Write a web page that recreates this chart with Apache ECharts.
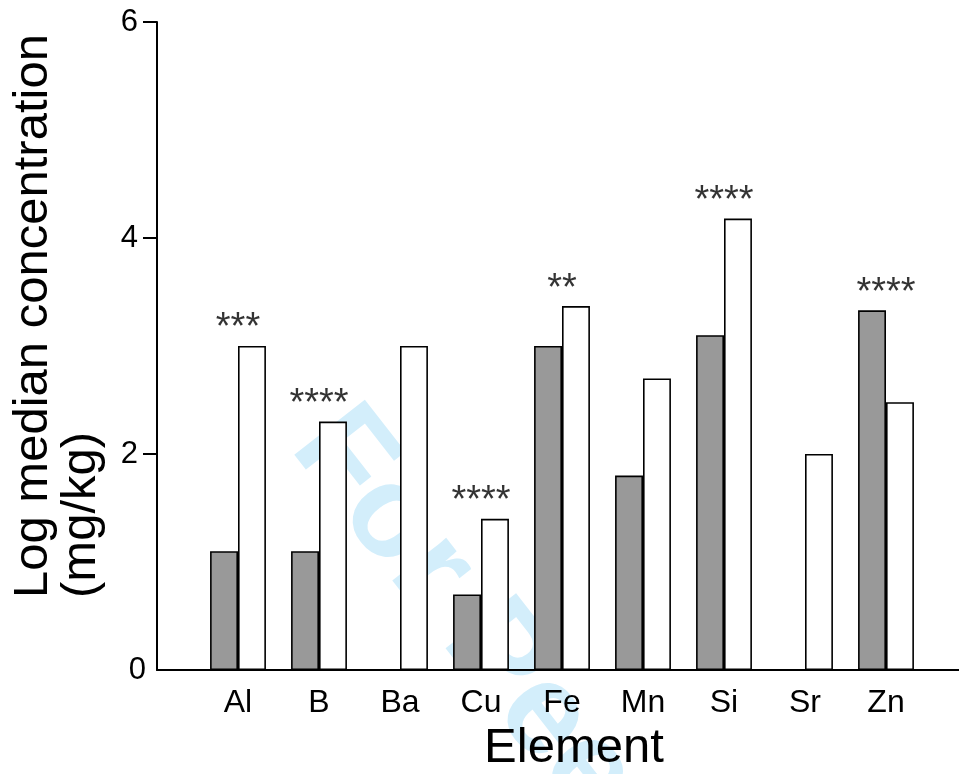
<!DOCTYPE html>
<html>
<head>
<meta charset="utf-8">
<script src="https://cdn.jsdelivr.net/npm/echarts@6/dist/echarts.min.js"></script>
<style>
  html, body { margin: 0; padding: 0; background: #fff; overflow: hidden; }
  #main { width: 959px; height: 774px; }
</style>
</head>
<body>
<div id="main"></div>
<script>
// element categories
var elements = ["Al", "B", "Ba", "Cu", "Fe", "Mn", "Si", "Sr", "Zn"];
// log median concentration (mg/kg), grey and white bars
var greyValues = [1.1, 1.1, 0, 0.7, 3.0, 1.8, 3.1, 0, 3.33];
var whiteValues = [3.0, 2.3, 3.0, 1.4, 3.37, 2.7, 4.18, 2.0, 2.48];
// significance marks
var signif = ["***", "****", "", "****", "**", "", "****", "", "****"];
var yTicks = [0, 2, 4, 6];

var FONT = "Liberation Sans, Arial, Helvetica, sans-serif";

// position of the stars: top of the higher bar
var starPos = elements.map(function (e, i) {
    return Math.max(greyValues[i], whiteValues[i]);
});

var chart = echarts.init(document.getElementById("main"));

chart.setOption({
    animation: false,
    backgroundColor: "#fff",
    textStyle: { fontFamily: FONT },
    grid: [
        // frame grid: axis line runs to the right edge
        { left: 157, width: 830, top: 22, bottom: 104, outerBoundsMode: "none", containLabel: false },
        // bar grid
        { left: 197.5, width: 729, top: 22, bottom: 104, outerBoundsMode: "none", containLabel: false }
    ],
    xAxis: [
        {
            gridIndex: 0,
            type: "value",
            min: 0,
            max: 1,
            axisLine: { show: true, onZero: false, lineStyle: { color: "#000", width: 2 } },
            axisTick: { show: false },
            axisLabel: { show: false },
            splitLine: { show: false }
        },
        {
            gridIndex: 1,
            type: "category",
            data: elements,
            axisLine: { show: false },
            axisTick: { show: false },
            axisLabel: {
                color: "#000",
                fontSize: 32,
                fontFamily: FONT,
                margin: 17
            },
            name: "Element",
            nameLocation: "middle",
            nameGap: 49,
            nameTextStyle: {
                color: "#000",
                fontSize: 49,
                fontFamily: FONT,
                padding: [0, 0, 0, 24]
            }
        }
    ],
    yAxis: [
        {
            gridIndex: 0,
            type: "value",
            min: 0,
            max: 6,
            interval: 2,
            axisLine: { show: true, lineStyle: { color: "#000", width: 2 } },
            axisTick: {
                show: true,
                length: 14,
                customValues: yTicks.slice(1),
                lineStyle: { color: "#000", width: 2 }
            },
            axisLabel: {
                color: "#000",
                fontSize: 31,
                fontFamily: FONT,
                margin: 11,
                customValues: yTicks,
                // the 0 label sits closer to the axis (no tick there)
                formatter: function (v) { return v === 0 ? "0" : "{a|" + v + "}"; },
                rich: {
                    a: { fontSize: 31, fontFamily: FONT, color: "#000", padding: [0, 8, 0, 0] }
                }
            },
            splitLine: { show: false }
        },
        {
            gridIndex: 1,
            type: "value",
            min: 0,
            max: 6,
            show: false
        }
    ],
    graphic: [
        {
            type: "text",
            z: -10,
            x: 266,
            y: 466,
            rotation: -52 * Math.PI / 180,
            style: {
                text: "For Peer Review",
                fontSize: 130,
                fontWeight: "bold",
                fontFamily: FONT,
                fill: "#d3eefb",
                textAlign: "left",
                textVerticalAlign: "bottom"
            }
        },
        {
            type: "text",
            x: 9,
            y: 598,
            rotation: Math.PI / 2,
            style: {
                text: "Log median concentration\n(mg/kg)",
                fontSize: 49,
                lineHeight: 48,
                fontFamily: FONT,
                fill: "#000",
                textAlign: "left",
                textVerticalAlign: "top"
            }
        }
    ],
    series: [
        {
            type: "bar",
            xAxisIndex: 1,
            yAxisIndex: 1,
            data: greyValues,
            barGap: "0%",
            barCategoryGap: "31%",
            itemStyle: { color: "#999999", borderColor: "#000", borderWidth: 1.6 }
        },
        {
            type: "bar",
            xAxisIndex: 1,
            yAxisIndex: 1,
            data: whiteValues,
            barGap: "0%",
            barCategoryGap: "31%",
            itemStyle: { color: "#ffffff", borderColor: "#000", borderWidth: 1.6 }
        },
        {
            type: "scatter",
            xAxisIndex: 1,
            yAxisIndex: 1,
            data: starPos,
            symbolSize: 0,
            silent: true,
            label: {
                show: true,
                position: "top",
                distance: -2,
                color: "#000",
                fontSize: 38,
                fontFamily: FONT,
                formatter: function (p) { return signif[p.dataIndex]; }
            }
        }
    ]
});
</script>
</body>
</html>
